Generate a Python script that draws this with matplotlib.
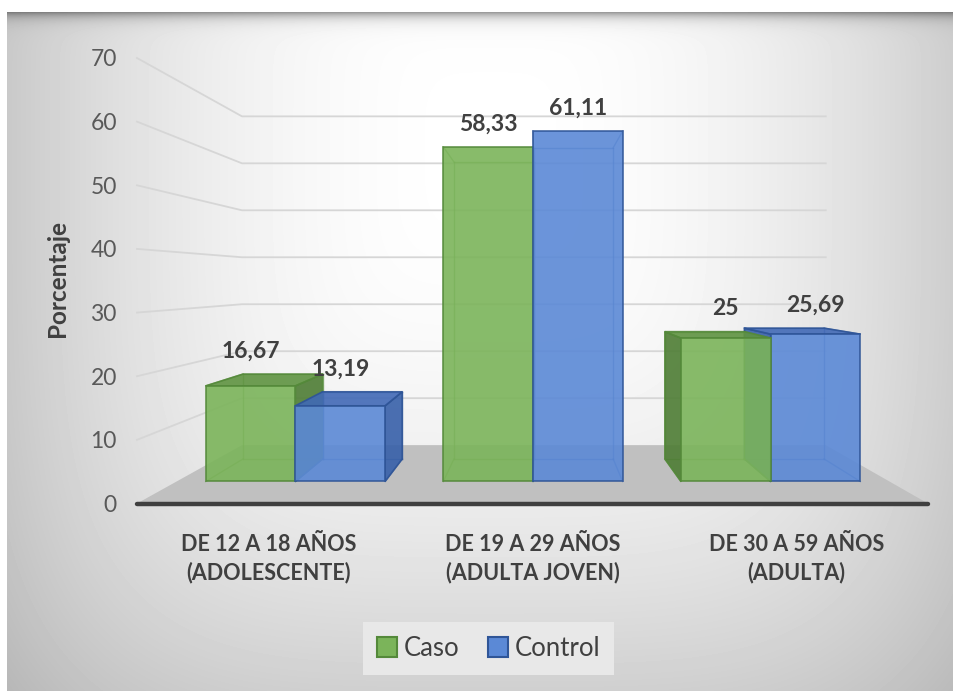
import numpy as np
import matplotlib
matplotlib.use("Agg")
import matplotlib.pyplot as plt
from matplotlib.patches import Polygon, Patch

categories = ["DE 12 A 18 AÑOS\n(ADOLESCENTE)",
              "DE 19 A 29 AÑOS\n(ADULTA JOVEN)",
              "DE 30 A 59 AÑOS\n(ADULTA)"]
caso = [16.67, 58.33, 25]
control = [13.19, 61.11, 25.69]
series_names = ["Caso", "Control"]
y_ticks = [0, 10, 20, 30, 40, 50, 60, 70]

plt.rcParams['font.family'] = ['Lato', 'DejaVu Sans']

W, H = 954, 691
fig = plt.figure(figsize=(W / 100, H / 100), dpi=100)

# soft grey vignette behind the chart, with a shadow under the top edge
ax_bg = fig.add_axes([0, 0, 1, 1])
yy, xx = np.mgrid[0:H, 0:W]
dx = (xx - 490) / 470
dy = (yy - 150) / 560
r = (dx ** 4 + dy ** 4) ** 0.25
bg = 1 - 0.2 * np.clip(r, 0, 1.2) ** 2
bg = bg * (1 - 0.38 * np.exp(-np.clip(yy - 12, 0, None) / 6.0))
bg[yy < 12] = 1
bg[xx < 7] = 1
ax_bg.imshow(bg, cmap='gray', vmin=0, vmax=1, aspect='auto', interpolation='bilinear')
ax_bg.set_axis_off()

# plot area: front plane of the 3d box
x_left, x_right = 137, 928
y_zero, y_top = 503.5, 58
ax = fig.add_axes([x_left / W, 1 - y_zero / H, (x_right - x_left) / W, (y_zero - y_top) / H])
ax.set_xlim(0, 3)
ax.set_ylim(0, 70)
ax.patch.set_alpha(0)
for sp in ax.spines.values():
    sp.set_visible(False)

# perspective: points shrink towards a vanishing point with depth factor s
VX, VY = 1.52, 35.0
S_WALL = 0.738
S_FRONT, S_BACK = 0.901, 0.80


def proj(x, y, s):
    return VX + (x - VX) * s, VY + (y - VY) * s


# floor
floor = [proj(0, 0, 1), proj(3, 0, 1), proj(3, 0, S_WALL), proj(0, 0, S_WALL)]
ax.add_patch(Polygon(floor, closed=True, facecolor='#c0c0c0', edgecolor='none', zorder=1))

# side wall and back wall gridlines
for v in y_ticks[1:]:
    p1 = proj(0, v, S_WALL)
    p2 = proj(3, v, S_WALL)
    ax.plot([0, p1[0], p2[0]], [v, p1[1], p2[1]], color='#d6d6d6', lw=1.3, zorder=2,
            clip_on=False)

ax.plot([0, 3], [0, 0], color='#3f3f3f', lw=3.2, zorder=3, solid_capstyle='round',
        clip_on=False)

styles = {
    "Caso": dict(face='#7bb45a', top='#5f9341', side='#4e7d34', edge='#54893a'),
    "Control": dict(face='#5b89d6', top='#4169b6', side='#3760a9', edge='#2f5597'),
}


def draw_box(x0, x1, v, st, z):
    fr = [proj(x0, 0, S_FRONT), proj(x1, 0, S_FRONT), proj(x1, v, S_FRONT), proj(x0, v, S_FRONT)]
    bk = [proj(x0, 0, S_BACK), proj(x1, 0, S_BACK), proj(x1, v, S_BACK), proj(x0, v, S_BACK)]
    # hidden edges show through the translucent faces
    for i in range(4):
        a, b = bk[i], bk[(i + 1) % 4]
        ax.plot([a[0], b[0]], [a[1], b[1]], color=st['edge'], lw=1, alpha=0.6, zorder=z)
        ax.plot([fr[i][0], bk[i][0]], [fr[i][1], bk[i][1]], color=st['edge'], lw=1,
                alpha=0.6, zorder=z)
    faces = []
    if x1 < VX:
        faces.append(([fr[1], bk[1], bk[2], fr[2]], st['side']))
    if x0 > VX:
        faces.append(([fr[0], bk[0], bk[3], fr[3]], st['side']))
    if v < VY:
        faces.append(([fr[3], fr[2], bk[2], bk[3]], st['top']))
    faces.append((fr, st['face']))
    for pts, col in faces:
        ax.add_patch(Polygon(pts, closed=True, facecolor=col, edgecolor=st['edge'],
                             lw=1.2, alpha=0.9, zorder=z + 0.5, clip_on=False))
    # value label above the highest top corner
    top_y = max(fr[3][1], bk[3][1])
    cx = proj((x0 + x1) / 2, v, S_FRONT)[0]
    return cx, top_y


bar_w = 0.3774
bars = []
for i in range(len(categories)):
    c = i + 0.5
    bars.append((c - bar_w, c, caso[i], "Caso"))
    bars.append((c, c + bar_w, control[i], "Control"))

# far bars first so the ones nearer the vanishing point overlap them
order = sorted(bars, key=lambda b: -abs((b[0] + b[1]) / 2 - VX))
for k, (x0, x1, v, name) in enumerate(order):
    cx, ty = draw_box(x0, x1, v, styles[name], 10 + k)
    ax.annotate(f"{v:g}".replace('.', ','), xy=(cx, ty), xytext=(0, 9),
                textcoords='offset points', ha='center', va='bottom',
                fontsize=16.5, fontweight='bold', color='#404040', zorder=40,
                annotation_clip=False)

ax.set_yticks(y_ticks)
ax.tick_params(axis='y', length=0, pad=14.5, labelsize=16.5, labelcolor='#595959')
ax.set_xticks([i + 0.5 for i in range(len(categories))])
ax.set_xticklabels(categories, fontsize=15.5, fontweight='bold', color='#404040',
                   linespacing=1.35)
ax.tick_params(axis='x', length=0, pad=22)

ax.set_ylabel("Porcentaje", fontsize=17.5, fontweight='bold', color='#404040')
ax.yaxis.set_label_coords(-0.086, 0.504)

handles = [Patch(facecolor=styles[n]['face'], edgecolor=styles[n]['edge'], lw=1.5)
           for n in series_names]
fig.legend(handles, series_names, loc='center', bbox_to_anchor=(0.512, 0.062), ncol=2,
           fontsize=18.5, frameon=True, facecolor='#e8e8e8', edgecolor='none',
           fancybox=False, framealpha=1, handlelength=0.8, handleheight=0.8,
           handletextpad=0.25, columnspacing=1.1, borderpad=0.55, labelcolor='#404040')

fig.savefig("out.png", dpi=100)
